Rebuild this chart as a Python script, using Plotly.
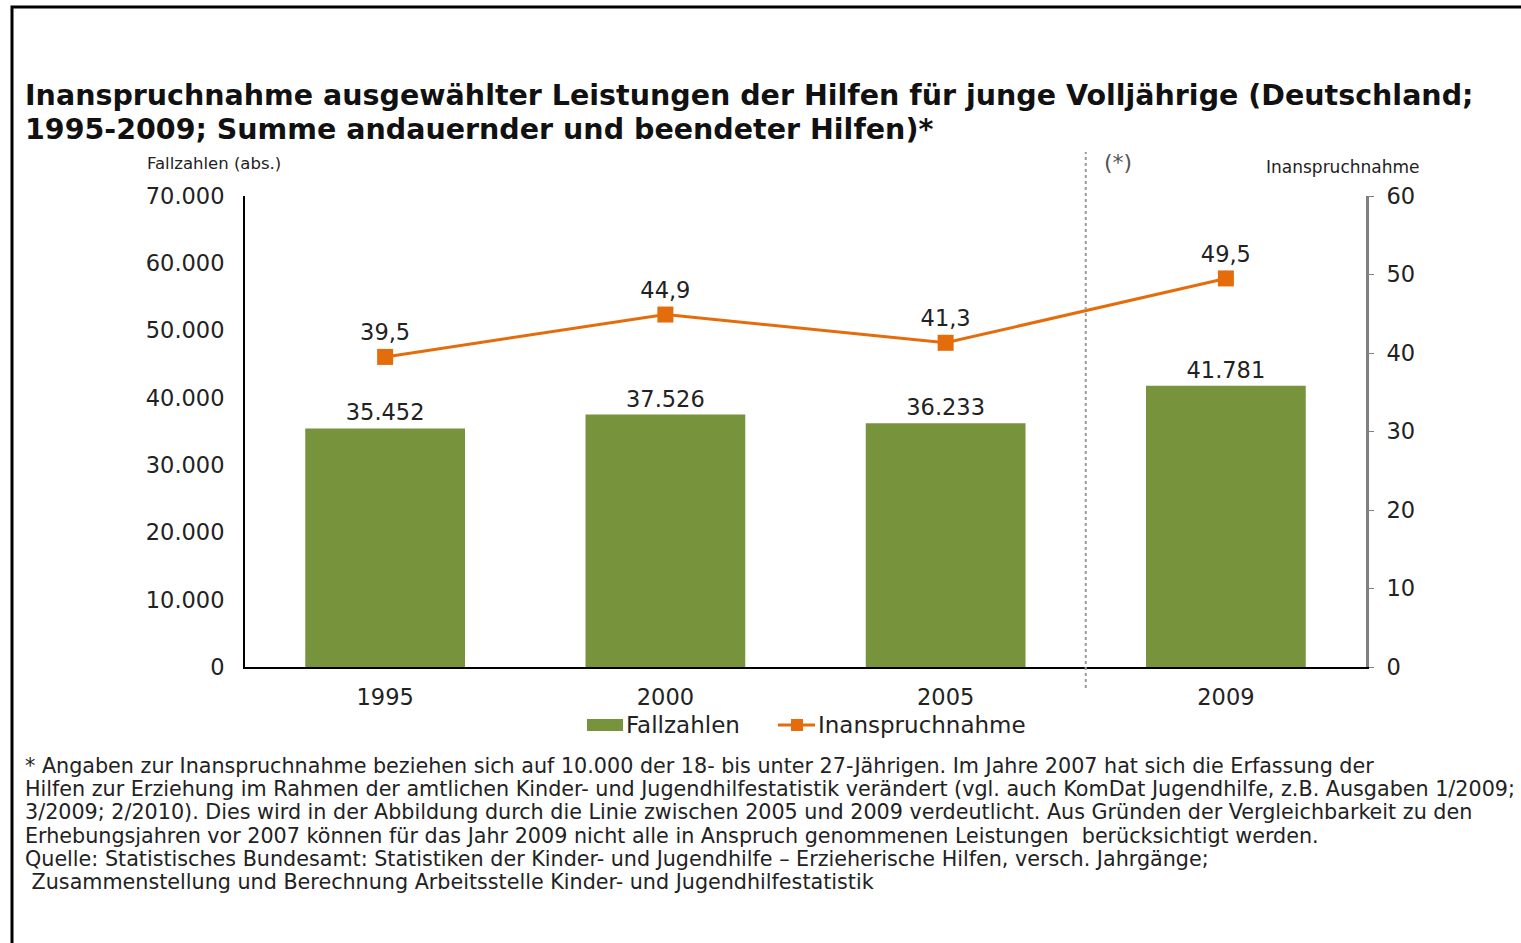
import plotly.graph_objects as go

years = ["1995", "2000", "2005", "2009"]
fallzahlen = [35452, 37526, 36233, 41781]
fallzahlen_labels = ["35.452", "37.526", "36.233", "41.781"]
inanspruchnahme = [39.5, 44.9, 41.3, 49.5]
inanspruchnahme_labels = ["39,5", "44,9", "41,3", "49,5"]
left_ticks = [0, 10000, 20000, 30000, 40000, 50000, 60000, 70000]
left_ticktext = ["0", "10.000", "20.000", "30.000", "40.000", "50.000", "60.000", "70.000"]
right_ticks = [0, 10, 20, 30, 40, 50, 60]
series_names = ["Fallzahlen", "Inanspruchnahme"]
title_lines = [
    "Inanspruchnahme ausgewählter Leistungen der Hilfen für junge Volljährige (Deutschland;",
    "1995-2009; Summe andauernder und beendeter Hilfen)*",
]
footnote_lines = [
    "* Angaben zur Inanspruchnahme beziehen sich auf 10.000 der 18- bis unter 27-Jährigen. Im Jahre 2007 hat sich die Erfassung der",
    "Hilfen zur Erziehung im Rahmen der amtlichen Kinder- und Jugendhilfestatistik verändert (vgl. auch KomDat Jugendhilfe, z.B. Ausgaben 1/2009;",
    "3/2009; 2/2010). Dies wird in der Abbildung durch die Linie zwischen 2005 und 2009 verdeutlicht. Aus Gründen der Vergleichbarkeit zu den",
    "Erhebungsjahren vor 2007 können für das Jahr 2009 nicht alle in Anspruch genommenen Leistungen  berücksichtigt werden.",
    "Quelle: Statistisches Bundesamt: Statistiken der Kinder- und Jugendhilfe – Erzieherische Hilfen, versch. Jahrgänge;",
    " Zusammenstellung und Berechnung Arbeitsstelle Kinder- und Jugendhilfestatistik",
]

W, H = 1521, 943
def px(x): return x / W
def py(y): return 1 - y / H

GREEN = "#77933C"
ORANGE = "#E46C0A"
FONT = "DejaVu Sans"
TXT = "#222"
TICK = 22.5
xpos = list(range(len(years)))

fig = go.Figure()
fig.add_trace(go.Bar(
    x=xpos, y=fallzahlen, name=series_names[0], marker_color=GREEN, width=0.57,
    text=fallzahlen_labels, textposition="outside", cliponaxis=False,
    textfont=dict(family=FONT, size=22.5, color=TXT), yaxis="y", showlegend=False,
))
fig.add_trace(go.Scatter(
    x=xpos, y=inanspruchnahme, name=series_names[1], mode="lines+markers+text",
    line=dict(color=ORANGE, width=3), marker=dict(symbol="square", size=16, color=ORANGE),
    text=inanspruchnahme_labels, textposition="top center", cliponaxis=False,
    textfont=dict(family=FONT, size=22.5, color=TXT), yaxis="y2", showlegend=False,
))

fig.update_layout(
    template="none",
    width=W, height=H, margin=dict(l=0, r=0, t=0, b=0, pad=0, autoexpand=False),
    paper_bgcolor="white", plot_bgcolor="white",
    font=dict(family=FONT, color=TXT),
    showlegend=False,
    xaxis=dict(domain=[px(245), px(1366)], range=[-0.5, 3.5], tickvals=xpos, ticktext=years,
               showline=True, linecolor="black", linewidth=2, ticks="outside", ticklen=9,
               tickcolor="rgba(0,0,0,0)", tickfont=dict(family=FONT, size=TICK, color=TXT),
               showgrid=False, zeroline=False, automargin=False),
    yaxis=dict(domain=[py(667), py(196)], range=[0, 70000], tickvals=left_ticks, ticktext=left_ticktext,
               showline=True, linecolor="black", linewidth=2, ticks="", showgrid=False, zeroline=False,
               tickfont=dict(family=FONT, size=TICK, color=TXT), ticklabelstandoff=14, automargin=False),
    yaxis2=dict(domain=[py(667), py(196)], range=[0, 60], tickvals=right_ticks, overlaying="y",
                side="right", showline=True, linecolor="#808080", linewidth=3, ticks="outside",
                ticklen=5, tickcolor="#808080", showgrid=False, zeroline=False,
                tickfont=dict(family=FONT, size=TICK, color=TXT), ticklabelstandoff=8, automargin=False),
)

shapes = [
    dict(type="rect", xref="paper", yref="paper", x0=px(12), x1=1.02, y0=-0.02, y1=py(7),
         line=dict(color="black", width=3), fillcolor="rgba(0,0,0,0)", layer="above"),
    dict(type="line", xref="x", yref="paper", x0=2.5, x1=2.5, y0=py(688), y1=py(152),
         line=dict(color="#9a9a9a", width=2, dash="dot")),
    # legend symbols
    dict(type="rect", xref="paper", yref="paper", x0=px(587), x1=px(623), y0=py(731), y1=py(719),
         line=dict(width=0), fillcolor=GREEN),
    dict(type="line", xref="paper", yref="paper", x0=px(778), x1=px(815), y0=py(725), y1=py(725),
         line=dict(color=ORANGE, width=3)),
    dict(type="rect", xref="paper", yref="paper", x0=px(791), x1=px(803), y0=py(731), y1=py(719),
         line=dict(width=0), fillcolor=ORANGE),
]
fig.update_layout(shapes=shapes)

annotations = []
for i, t in enumerate(title_lines):
    annotations.append(dict(text="<b>" + t + "</b>", xref="paper", yref="paper", x=px(23), y=py(96 + 33 * i),
                            xanchor="left", yanchor="middle", showarrow=False,
                            font=dict(family=FONT, size=28.5, color="#111")))
for i, t in enumerate(footnote_lines):
    annotations.append(dict(text=t, xref="paper", yref="paper", x=px(23), y=py(766 + 23.2 * i),
                            xanchor="left", yanchor="middle", showarrow=False,
                            font=dict(family=FONT, size=20.7, color=TXT)))
annotations += [
    dict(text="Fallzahlen (abs.)", xref="paper", yref="paper", x=px(214), y=py(163),
         xanchor="center", yanchor="middle", showarrow=False, font=dict(family=FONT, size=16.5, color=TXT)),
    dict(text="Inanspruchnahme", xref="paper", yref="paper", x=px(1343), y=py(167),
         xanchor="center", yanchor="middle", showarrow=False, font=dict(family=FONT, size=17, color=TXT)),
    dict(text="(*)", xref="paper", yref="paper", x=px(1118), y=py(162),
         xanchor="center", yanchor="middle", showarrow=False, font=dict(family=FONT, size=22, color="#555")),
    dict(text=series_names[0], xref="paper", yref="paper", x=px(624), y=py(725),
         xanchor="left", yanchor="middle", showarrow=False, font=dict(family=FONT, size=23, color=TXT)),
    dict(text=series_names[1], xref="paper", yref="paper", x=px(816), y=py(725),
         xanchor="left", yanchor="middle", showarrow=False, font=dict(family=FONT, size=23, color=TXT)),
]
fig.update_layout(annotations=annotations)

fig.write_html("out.html", config={"displayModeBar": False},
               post_script="document.body.style.margin='0';document.body.style.overflow='hidden';")
